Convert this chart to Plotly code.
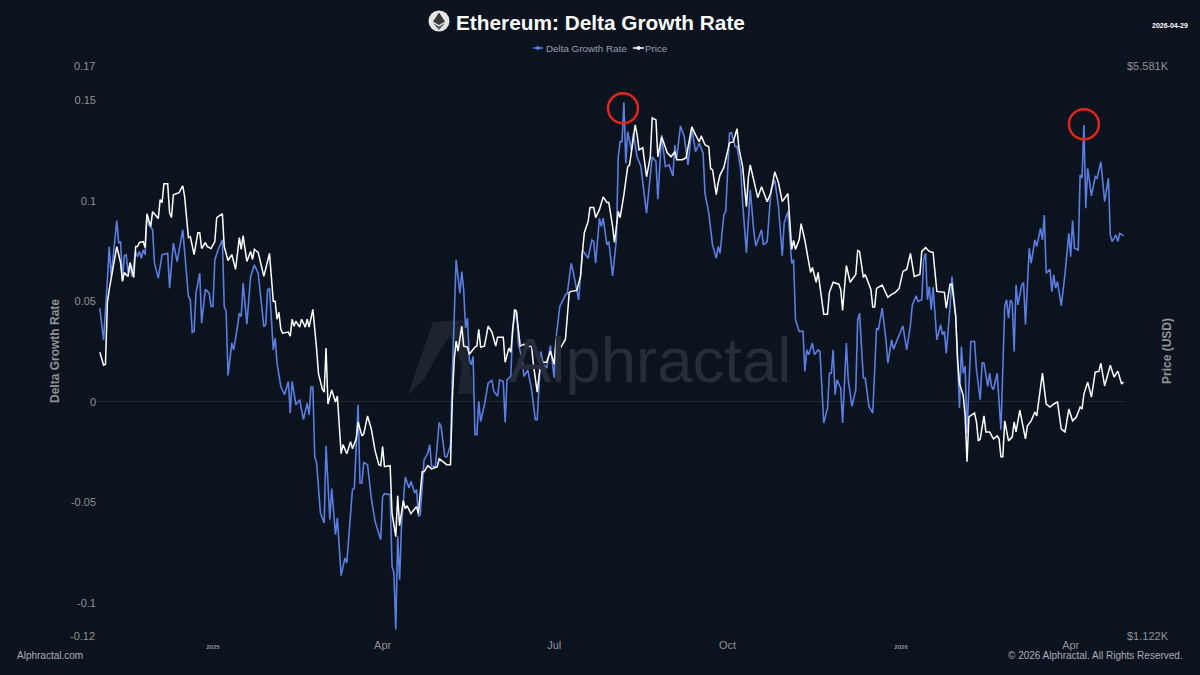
import pandas as pd
import plotly.graph_objects as go

# days since 2025-01-01
start = pd.Timestamp("2025-01-01")

delta_days = [
    -60, -58, -56, -55, -54, -52, -51, -50, -49, -48,
    -47, -46, -45, -44, -43, -41, -40, -39, -38, -37,
    -36, -35, -34, -32, -31, -29, -27, -24, -23, -21,
    -19, -16, -13, -12, -11, -10, -9, -7, -6, -4,
    -2, -1, 0, 1, 3, 5, 6, 7, 8, 10,
    11, 13, 14, 15, 16, 18, 20, 22, 24, 27,
    28, 29, 30, 32, 33, 34, 36, 38, 40, 41,
    42, 44, 46, 48, 50, 51, 52, 53, 54, 55,
    57, 59, 60, 62, 63, 65, 66, 68, 70, 71,
    74, 75, 77, 78, 79, 80, 82, 84, 86, 89,
    90, 91, 94, 95, 96, 97, 98, 99, 100, 102,
    104, 105, 107, 108, 109, 110, 112, 114, 115, 116,
    118, 120, 121, 123, 124, 126, 127, 129, 131, 132,
    133, 134, 135, 136, 137, 138, 139, 140, 141, 142,
    144, 146, 148, 149, 151, 152, 154, 155, 156, 158,
    159, 161, 162, 164, 165, 167, 169, 171, 172, 174,
    175, 177, 179, 181, 182, 184, 187, 188, 190, 191,
    193, 194, 196, 199, 201, 202, 203, 205, 206, 207,
    209, 210, 212, 214, 215, 216, 217, 218, 219, 220,
    222, 223, 225, 227, 230, 232, 233, 235, 236, 238,
    240, 242, 244, 245, 246, 248, 250, 252, 254, 256,
    258, 260, 261, 263, 265, 267, 268, 269, 271, 272,
    274, 275, 277, 278, 280, 281, 283, 285, 287, 288,
    291, 292, 294, 296, 298, 300, 302, 303, 305, 307,
    308, 309, 310, 311, 313, 314, 315, 316, 318, 319,
    321, 322, 324, 326, 327, 328, 329, 330, 331, 333,
    334, 336, 337, 339, 341, 342, 343, 345, 346, 348,
    350, 352, 353, 355, 357, 358, 360, 361, 366, 368,
    370, 371, 373, 374, 376, 377, 378, 379, 380, 381,
    382, 384, 386, 387, 388, 389, 391, 392, 394, 395,
    396, 397, 398, 399, 400, 402, 404, 405, 407, 408,
    409, 411, 412, 413, 414, 416, 418, 420, 421, 422,
    423, 424, 425, 426, 427, 429, 430, 431, 433, 434,
    436, 437, 439, 440, 441, 442, 444, 445, 446, 447,
    448, 450, 452, 454, 455, 456, 457, 459, 460, 461,
    462, 463, 464, 466, 468, 469, 471, 473, 475, 476,
    477, 479, 480, 481, 483,
]
delta_values = [
    .0466, .0308, .0606, .0772, .0623, .0789, .0901, .0789, .0797, .0606,
    .0726, .0731, .0640, .0689, .0623, .0747, .0722, .0747, .0714, .0755,
    .0731, .0929, .0880, .0855, .0689, .0615, .0731, .0739, .0565, .0789,
    .0697, .0855, .0524, .0507, .0345, .0350, .0540, .0640, .0391, .0560,
    .0540, .0474, .0474, .0706, .0764, .0805, .0474, .0449, .0131, .0292,
    .0258, .0374, .0441, .0424, .0590, .0386, .0623, .0681, .0640, .0374,
    .0383, .0557, .0565, .0258, .0316, .0192, .0076, .0035, .0101, -.0056,
    .0101, -.0015, .0010, -.0089, -.0007, -.0065, .0073, .0073, -.0272, -.0305,
    -.0553, -.0603, -.0219, -.0586, -.0432, -.0661, -.0578, -.0865, -.0777, -.0802,
    -.0437, -.0429, -.0015, -.0404, -.0404, -.0302, -.0313, -.0479, -.0595, -.0686,
    -.0471, -.0457, -.0462, -.0818, -.0852, -.1133, -.0669, -.0885, -.0620, -.0374,
    -.0429, -.0396, -.0454, -.0437, -.0570, -.0562, -.0288, -.0255, -.0214, -.0321,
    -.0321, -.0103, -.0123, -.0272, -.0275, -.0219, .0142, .0706, .0540, .0648,
    .0557, .0366, .0416, .0209, .0184, .0225, -.0164, -.0164, .0002, -.0098,
    -.0015, .0093, .0106, .0051, .0027, .0109, .0101, -.0103, .0109, .0126,
    .0374, .0457, .0292, .0209, .0126, .0159, .0060, -.0089, -.0089, .0250,
    .0192, .0167, .0279, .0120, .0316, .0474, .0532, .0540, .0689, .0650,
    .0557, .0507, .0755, .0714, .0805, .0797, .0689, .0913, .0871, .0913,
    .0780, .0797, .0626, .0805, .1219, .1294, .1294, .1489, .1186, .1344,
    .1252, .1335, .1219, .1170, .0938, .1128, .1219, .1195, .1007, .1327,
    .1170, .1178, .1123, .1277, .1211, .1372, .1319, .1178, .1360, .1244,
    .1286, .1236, .1037, .0938, .0780, .0714, .0772, .0739, .0929, .0946,
    .1335, .1339, .1269, .1269, .1153, .0987, .0742, .1054, .0838, .0775,
    .0855, .0780, .0797, .1054, .1103, .0971, .0726, .0888, .0946, .0689,
    .0706, .0408, .0383, .0350, .0350, .0151, .0258, .0234, .0292, .0234,
    .0258, .0250, -.0106, -.0031, .0142, .0142, .0258, .0035, .0109, .0068,
    -.0106, .0292, .0109, -.0023, .0060, .0408, .0441, .0118, .0118, -.0023,
    -.0056, .0366, .0358, .0466, .0308, .0192, .0308, .0262, .0378, .0258,
    .0383, .0482, .0527, .0499, .0507, .0706, .0739, .0507, .0573, .0457,
    .0570, .0308, .0383, .0333, .0350, .0242, .0474, .0623, .0424, .0142,
    -.0031, .0275, .0142, .0176, -.0156, .0300, .0300, .0159, .0010, .0192,
    .0192, .0076, .0142, .0076, .0060, .0142, -.0139, .0474, .0507, .0416,
    .0507, .0490, .0250, .0582, .0482, .0582, .0593, .0383, .0764, .0689,
    .0805, .0772, .0863, .0805, .0929, .0639, .0659, .0548, .0631, .0565,
    .0598, .0477, .0639, .0838, .0722, .0901, .0764, .0755, .1128, .1112,
    .1377, .0963, .1161, .1024, .1120, .1112, .1194, .0996, .1112, .0830,
    .0797, .0830, .0797, .0838, .0825,
]

price_days = [
    -60, -58, -57, -56, -55, -53, -51, -49, -48, -47,
    -45, -44, -42, -41, -40, -39, -37, -36, -35, -33,
    -32, -29, -28, -27, -26, -24, -23, -22, -21, -18,
    -16, -15, -13, -12, -10, -8, -7, -6, -4, -3,
    -1, 1, 2, 5, 6, 8, 10, 12, 14, 15,
    16, 18, 20, 21, 22, 24, 27, 30, 32, 33,
    34, 35, 36, 37, 40, 41, 42, 43, 44, 46,
    47, 49, 50, 51, 53, 55, 56, 58, 59, 60,
    61, 63, 65, 66, 68, 69, 71, 73, 74, 76,
    77, 79, 80, 82, 84, 86, 88, 89, 90, 91,
    94, 95, 97, 98, 99, 101, 102, 103, 105, 108,
    109, 111, 112, 114, 116, 119, 120, 122, 124, 126,
    127, 128, 129, 130, 132, 133, 135, 136, 139, 140,
    141, 142, 144, 146, 148, 150, 151, 154, 155, 157,
    158, 160, 161, 163, 165, 166, 169, 170, 172, 174,
    175, 177, 179, 181, 182, 184, 186, 187, 189, 190,
    193, 194, 195, 196, 197, 199, 200, 202, 203, 205,
    207, 209, 210, 212, 213, 215, 216, 218, 220, 221,
    224, 225, 226, 228, 230, 232, 233, 235, 236, 238,
    239, 241, 243, 245, 246, 249, 251, 254, 256, 258,
    259, 261, 263, 264, 265, 267, 268, 269, 271, 273,
    274, 276, 278, 279, 281, 283, 284, 285, 287, 289,
    291, 294, 296, 298, 300, 302, 305, 307, 308, 309,
    311, 312, 314, 317, 318, 320, 321, 322, 324, 326,
    327, 329, 332, 333, 334, 336, 338, 341, 342, 343,
    345, 346, 349, 350, 351, 352, 355, 358, 360, 362,
    364, 366, 368, 370, 372, 375, 376, 378, 380, 382,
    383, 384, 388, 389, 391, 392, 394, 395, 396, 398,
    399, 400, 401, 404, 405, 406, 407, 409, 410, 412,
    414, 416, 417, 418, 419, 420, 422, 424, 425, 426,
    428, 431, 432, 434, 436, 437, 440, 442, 444, 446,
    448, 450, 452, 454, 456, 458, 460, 461, 462, 464,
    466, 468, 470, 471, 473, 476, 478, 480, 482, 483,
]
price_values = [
    2498, 2410, 2416, 2865, 2969, 3137, 3340, 3197, 3035, 3111,
    3077, 3197, 3068, 3340, 3340, 3378, 3387, 3331, 3657, 3529,
    3678, 3608, 3801, 3770, 3971, 3971, 3667, 3618, 3853, 3875,
    3949, 3830, 3424, 3433, 3268, 3471, 3471, 3323, 3378, 3340,
    3323, 3387, 3618, 3657, 3340, 3215, 3268, 3137, 3424, 3314,
    3442, 3206, 3296, 3224, 3314, 3287, 3077, 3278, 2873, 2873,
    2735, 2788, 2661, 2632, 2640, 2610, 2735, 2683, 2720, 2676,
    2735, 2676, 2735, 2676, 2811, 2519, 2355, 2257, 2238, 2526,
    2166, 2251, 2178, 2214, 1889, 1937, 1889, 1952, 1915, 1968,
    2062, 1984, 1995, 2096, 2022, 1905, 1833, 1828, 1926, 1823,
    1828, 1602, 1504, 1683, 1550, 1660, 1624, 1637, 1602, 1633,
    1602, 1797, 1797, 1828, 1812, 1823, 1863, 1848, 1833, 1833,
    2196, 2450, 2575, 2505, 2683, 2540, 2533, 2484, 2533, 2540,
    2661, 2533, 2540, 2683, 2640, 2540, 2603, 2603, 2430, 2526,
    2498, 2811, 2788, 2540, 2554, 2533, 2540, 2416, 2238, 2450,
    2430, 2430, 2505, 2416, 2589, 2519, 2568, 2589, 2945, 2953,
    2961, 3028, 3077, 3287, 3471, 3578, 3719, 3719, 3618, 3698,
    3830, 3770, 3770, 3529, 3378, 3678, 3618, 3853, 4160, 4183,
    4670, 4543, 4360, 4384, 4048, 4277, 4760, 4734, 4277, 4518,
    4445, 4324, 4277, 4336, 4242, 4242, 4265, 4644, 4543, 4456,
    4530, 4420, 4396, 4138, 4127, 3853, 3982, 4070, 4150, 4336,
    4445, 4456, 4619, 4384, 4160, 3729, 4037, 4183, 3993, 3822,
    3939, 3780, 3875, 4104, 3982, 3780, 3864, 3314, 3397, 3314,
    3406, 3559, 3397, 3111, 3154, 3028, 3111, 2985, 2773, 2773,
    2945, 3028, 3012, 2969, 2803, 3171, 3028, 3094, 3305, 3296,
    3068, 3094, 2969, 2828, 2828, 2977, 3004, 2905, 2929, 2945,
    2977, 3120, 3137, 3278, 3077, 3094, 3296, 3331, 3296, 3287,
    3137, 2953, 2945, 2819, 3012, 3012, 2757, 2450, 2291, 2218,
    2096, 1848, 2090, 2113, 2062, 1957, 1968, 2096, 2006, 2006,
    1968, 1984, 1968, 1873, 1873, 2068, 1957, 1979, 2062, 2006,
    2130, 1968, 2039, 2068, 2119, 2096, 2358, 2166, 2148, 2166,
    2178, 2022, 2006, 2136, 2068, 2090, 2148, 2136, 2226, 2300,
    2208, 2364, 2371, 2423, 2276, 2410, 2333, 2371, 2288, 2301,
]

left_ticks = [0.15, 0.1, 0.05, 0, -0.05, -0.1]
left_labels = ["0.15", "0.1", "0.05", "0", "-0.05", "-0.1"]
month_ticks = ["2025-01-01", "2025-04-01", "2025-07-01", "2025-10-01", "2026-01-01", "2026-04-01"]
month_labels = ['<span style="font-size:6px"><b>2025</b></span>', "Apr", "Jul", "Oct",
                '<span style="font-size:6px"><b>2026</b></span>', "Apr"]

BG = "#0b131f"
BLUE = "#5b7ee0"
GREY = "#909296"
FONT = "Liberation Sans"
W, H = 1200, 675


def px(x):
    return x / W


def py(y):
    return 1 - y / H


def poly(points):
    return "M " + " L ".join(f"{px(x):.5f},{py(y):.5f}" for x, y in points) + " Z"


def note(x, y, text, size=11, color=GREY, anchor="left", **kw):
    return dict(x=px(x), y=py(y), xref="paper", yref="paper", text=text, showarrow=False,
                xanchor=anchor, yanchor="middle", font=dict(family=FONT, size=size, color=color), **kw)


def dates(days):
    return start + pd.to_timedelta(days, unit="D")


fig = go.Figure()
fig.add_trace(go.Scatter(x=dates(delta_days), y=delta_values, name="Delta Growth Rate", mode="lines",
                         line=dict(color=BLUE, width=1.6), yaxis="y"))
fig.add_trace(go.Scatter(x=dates(price_days), y=price_values, name="Price", mode="lines",
                         line=dict(color="#ffffff", width=1.5), yaxis="y2"))

shapes = [
    # watermark logo
    dict(type="path", path=poly([(408, 395), (418, 365), (433, 322), (462, 320), (440, 350), (425, 378)]),
         xref="paper", yref="paper", fillcolor="#1d242f", line_width=0, layer="below"),
    dict(type="path", path=poly([(450, 335), (463, 320), (474, 394), (458, 394), (462, 365)]),
         xref="paper", yref="paper", fillcolor="#1d242f", line_width=0, layer="below"),
    # ethereum icon
    dict(type="circle", x0=px(428.5), x1=px(449.5), y0=py(31.5), y1=py(10.5), xref="paper", yref="paper",
         fillcolor="#e6e6e6", line_width=0),
    dict(type="path", path=poly([(439, 12.5), (445, 21.5), (439, 25), (433, 21.5)]),
         xref="paper", yref="paper", fillcolor="#3a3a3c", line_width=0),
    dict(type="path", path=poly([(433, 23), (439, 26.5), (445, 23), (439, 30)]),
         xref="paper", yref="paper", fillcolor="#56565a", line_width=0),
    # legend glyphs
    dict(type="line", x0=px(533), x1=px(543), y0=py(48), y1=py(48), xref="paper", yref="paper",
         line=dict(color=BLUE, width=1.5)),
    dict(type="circle", x0=px(536), x1=px(540), y0=py(50), y1=py(46), xref="paper", yref="paper",
         fillcolor=BLUE, line_width=0),
    dict(type="line", x0=px(633), x1=px(644), y0=py(48), y1=py(48), xref="paper", yref="paper",
         line=dict(color="#ffffff", width=1.5)),
    dict(type="circle", x0=px(636.5), x1=px(640.5), y0=py(50), y1=py(46), xref="paper", yref="paper",
         fillcolor="#ffffff", line_width=0),
]

# red rings around the two peaks
for day, level in [(217.5, 0.146), (462, 0.138)]:
    shapes.append(dict(type="circle", xsizemode="pixel", ysizemode="pixel",
                       xanchor=dates(day), yanchor=level, xref="x", yref="y",
                       x0=-15, x1=15, y0=-15, y1=15, line=dict(color="#e3261a", width=2.5)))

annotations = [
    note(600.5, 22, "<b>Ethereum: Delta Growth Rate</b>", size=20.8, color="#ffffff", anchor="center"),
    note(544, 48, "Delta Growth Rate", size=9.8, color="#9a9fb0"),
    note(643, 48, "Price", size=9.8, color="#9a9fb0"),
    note(1190, 26, "<b>2026-04-29</b>", size=7, color="#ffffff", anchor="right"),
    note(97, 66, "0.17", anchor="right"),
    note(97, 636, "-0.12", anchor="right"),
    note(1125, 66, "$5.581K"),
    note(1125, 636, "$1.122K"),
    note(15, 655, "Alphractal.com", size=10, color="#a9adb5"),
    note(1185, 655, "© 2026 Alphractal. All Rights Reserved.", size=10, color="#a9adb5", anchor="right"),
    note(55, 351, "<b>Delta Growth Rate</b>", size=12, anchor="center", textangle=-90),
    note(1167, 351, "<b>Price (USD)</b>", size=12, anchor="center", textangle=-90),
    note(507, 360, "Alphractal", size=63.5, color="#272d38", captureevents=False),
]

fig.update_layout(
    width=W, height=H, autosize=False,
    margin=dict(l=0, r=0, t=0, b=0),
    paper_bgcolor=BG, plot_bgcolor="rgba(0,0,0,0)",
    showlegend=False,
    font=dict(family=FONT, size=11, color=GREY),
    xaxis=dict(domain=[px(97), px(1125)], type="date",
               range=[dates(-61.5), dates(483.8)],
               tickmode="array", tickvals=month_ticks, ticktext=month_labels,
               showgrid=False, zeroline=False, showline=False, ticks="",
               ticklabelstandoff=-6, tickfont=dict(size=11, color=GREY)),
    yaxis=dict(domain=[py(643), py(60)], range=[-0.12, 0.17],
               tickmode="array", tickvals=left_ticks, ticktext=left_labels,
               showgrid=False, zeroline=True, zerolinecolor="#1f2733", zerolinewidth=1,
               showline=False, ticks="", tickfont=dict(size=11, color=GREY)),
    yaxis2=dict(domain=[py(643), py(60)], type="log", overlaying="y", side="right",
                range=[3.05, 3.7468], showticklabels=False,
                showgrid=False, zeroline=False, showline=False, ticks=""),
    shapes=shapes,
    annotations=annotations,
)

# the page's default body margin would push the figure 8px in
fig.write_html("out.html", config={"displayModeBar": False},
               post_script="document.body.style.margin = '0';")
